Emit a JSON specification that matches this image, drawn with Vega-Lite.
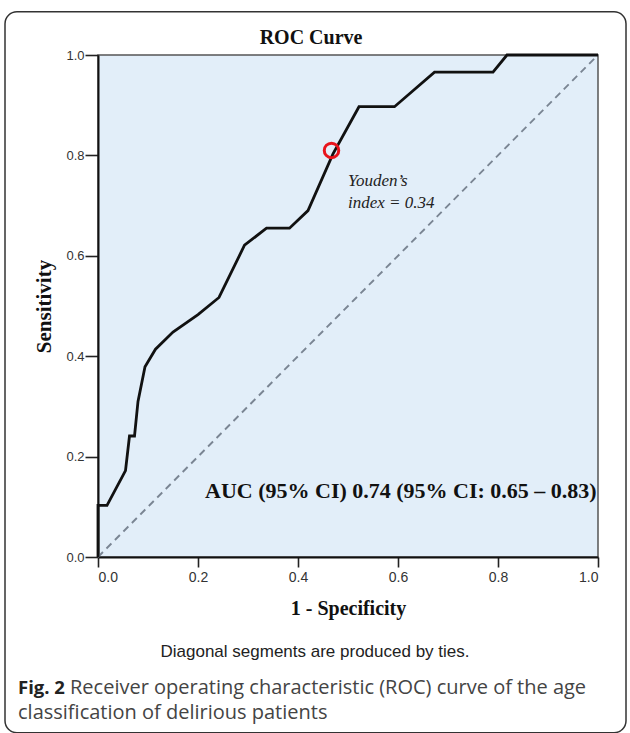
{
  "$schema": "https://vega.github.io/schema/vega-lite/v6.json",
  "width": 500,
  "height": 502,
  "autosize": {"type": "none"},
  "padding": {"left": 98, "top": 55, "right": 32, "bottom": 176},
  "background": "white",
  "config": {
    "view": {"fill": "#e2eef9", "stroke": "#555", "strokeWidth": 1.5},
    "axis": {
      "domainColor": "#111",
      "domainWidth": 2,
      "tickColor": "#222",
      "tickWidth": 1.6,
      "labelFont": "Liberation Sans",
      "labelColor": "#333",
      "titleFont": "Liberation Serif",
      "titleFontWeight": "bold",
      "titleColor": "#111",
      "grid": false
    }
  },
  "datasets": {
    "roc": [
      {"fpr": 0.0, "tpr": 0.0},
      {"fpr": 0.0, "tpr": 0.103},
      {"fpr": 0.018, "tpr": 0.103},
      {"fpr": 0.055, "tpr": 0.172},
      {"fpr": 0.063, "tpr": 0.241},
      {"fpr": 0.073, "tpr": 0.241},
      {"fpr": 0.08, "tpr": 0.31},
      {"fpr": 0.094, "tpr": 0.379},
      {"fpr": 0.115, "tpr": 0.414},
      {"fpr": 0.15, "tpr": 0.448},
      {"fpr": 0.2, "tpr": 0.483},
      {"fpr": 0.242, "tpr": 0.517},
      {"fpr": 0.293, "tpr": 0.621},
      {"fpr": 0.337, "tpr": 0.655},
      {"fpr": 0.383, "tpr": 0.655},
      {"fpr": 0.42, "tpr": 0.69},
      {"fpr": 0.47, "tpr": 0.803},
      {"fpr": 0.522, "tpr": 0.897},
      {"fpr": 0.593, "tpr": 0.897},
      {"fpr": 0.673, "tpr": 0.966},
      {"fpr": 0.79, "tpr": 0.966},
      {"fpr": 0.818, "tpr": 1.0},
      {"fpr": 1.0, "tpr": 1.0}
    ],
    "diag": [
      {"fpr": 0.0, "tpr": 0.0},
      {"fpr": 1.0, "tpr": 1.0}
    ],
    "youden": [
      {"fpr": 0.467, "tpr": 0.81}
    ]
  },
  "layer": [
    {
      "mark": {"type": "rect", "fill": null, "fillOpacity": 0, "stroke": "#333", "strokeWidth": 1.5, "cornerRadius": 12, "clip": false},
      "data": {"values": [{}]},
      "encoding": {
        "x": {"datum": -0.186, "type": "quantitative", "scale": {"domain": [0, 1], "nice": false}},
        "x2": {"datum": 1.056},
        "y": {"datum": 1.086, "type": "quantitative", "scale": {"domain": [0, 1], "nice": false}},
        "y2": {"datum": -0.35}
      }
    },
    {
      "data": {"name": "diag"},
      "mark": {"type": "line", "color": "#7a8593", "strokeWidth": 1.9, "strokeDash": [7, 5]},
      "encoding": {
        "x": {"field": "fpr", "type": "quantitative"},
        "y": {"field": "tpr", "type": "quantitative"}
      }
    },
    {
      "data": {"name": "roc"},
      "mark": {"type": "line", "color": "#111", "strokeWidth": 2.8, "strokeJoin": "miter"},
      "encoding": {
        "x": {
          "field": "fpr", "type": "quantitative",
          "scale": {"domain": [0, 1], "nice": false},
          "axis": {"values": [0, 0.2, 0.4, 0.6, 0.8, 1.0], "format": ".1f", "title": "1 - Specificity", "titleFontSize": 20, "titlePadding": 14, "labelPadding": 3, "tickSize": 10, "labelFontSize": 14}
        },
        "y": {
          "field": "tpr", "type": "quantitative",
          "scale": {"domain": [0, 1], "nice": false},
          "axis": {"values": [0, 0.2, 0.4, 0.6, 0.8, 1.0], "format": ".1f", "title": "Sensitivity", "titleFontSize": 21, "titlePadding": 11, "labelPadding": 1, "tickSize": 13, "labelFontSize": 13}
        },
        "order": {"field": "fpr"}
      }
    },
    {
      "data": {"name": "youden"},
      "mark": {"type": "point", "shape": "circle", "filled": false, "size": 210, "stroke": "#e8141c", "strokeWidth": 3, "opacity": 1},
      "encoding": {
        "x": {"field": "fpr", "type": "quantitative"},
        "y": {"field": "tpr", "type": "quantitative"}
      }
    },
    {
      "data": {"values": [{"label": "ROC Curve"}]},
      "mark": {"type": "text", "font": "Liberation Serif", "fontWeight": "bold", "fontSize": 20, "color": "#111", "align": "center", "baseline": "middle"},
      "encoding": {
        "x": {"datum": 0.426},
        "y": {"datum": 1.034},
        "text": {"field": "label"}
      }
    },
    {
      "data": {"values": [{"label": ["Youden’s", "index = 0.34"]}]},
      "mark": {"type": "text", "font": "Liberation Serif", "fontStyle": "italic", "fontSize": 17, "color": "#222", "align": "left", "baseline": "middle", "lineHeight": 22},
      "encoding": {
        "x": {"datum": 0.5},
        "y": {"datum": 0.749},
        "text": {"field": "label"}
      }
    },
    {
      "data": {"values": [{"label": "AUC (95% CI) 0.74 (95% CI: 0.65 – 0.83)"}]},
      "mark": {"type": "text", "font": "Liberation Serif", "fontWeight": "bold", "fontSize": 22, "color": "#111", "align": "left", "baseline": "middle"},
      "encoding": {
        "x": {"datum": 0.214},
        "y": {"datum": 0.131},
        "text": {"field": "label"}
      }
    },
    {
      "data": {"values": [{"label": "Diagonal segments are produced by ties."}]},
      "mark": {"type": "text", "font": "Liberation Sans", "fontSize": 17, "color": "#222", "align": "center", "baseline": "middle"},
      "encoding": {
        "x": {"datum": 0.434},
        "y": {"datum": -0.189},
        "text": {"field": "label"}
      }
    },
    {
      "data": {"values": [{"label": "Fig. 2"}]},
      "mark": {"type": "text", "font": "Open Sans", "fontWeight": "bold", "fontSize": 18.5, "color": "#222", "align": "left", "baseline": "middle"},
      "encoding": {
        "x": {"datum": -0.16},
        "y": {"datum": -0.261},
        "text": {"field": "label"}
      }
    },
    {
      "data": {"values": [{"label": "Receiver operating characteristic (ROC) curve of the age"}]},
      "mark": {"type": "text", "font": "Open Sans", "fontSize": 20, "color": "#444", "align": "left", "baseline": "middle"},
      "encoding": {
        "x": {"datum": -0.056},
        "y": {"datum": -0.261},
        "text": {"field": "label"}
      }
    },
    {
      "data": {"values": [{"label": "classification of delirious patients"}]},
      "mark": {"type": "text", "font": "Open Sans", "fontSize": 20, "color": "#444", "align": "left", "baseline": "middle"},
      "encoding": {
        "x": {"datum": -0.16},
        "y": {"datum": -0.311},
        "text": {"field": "label"}
      }
    }
  ]
}
